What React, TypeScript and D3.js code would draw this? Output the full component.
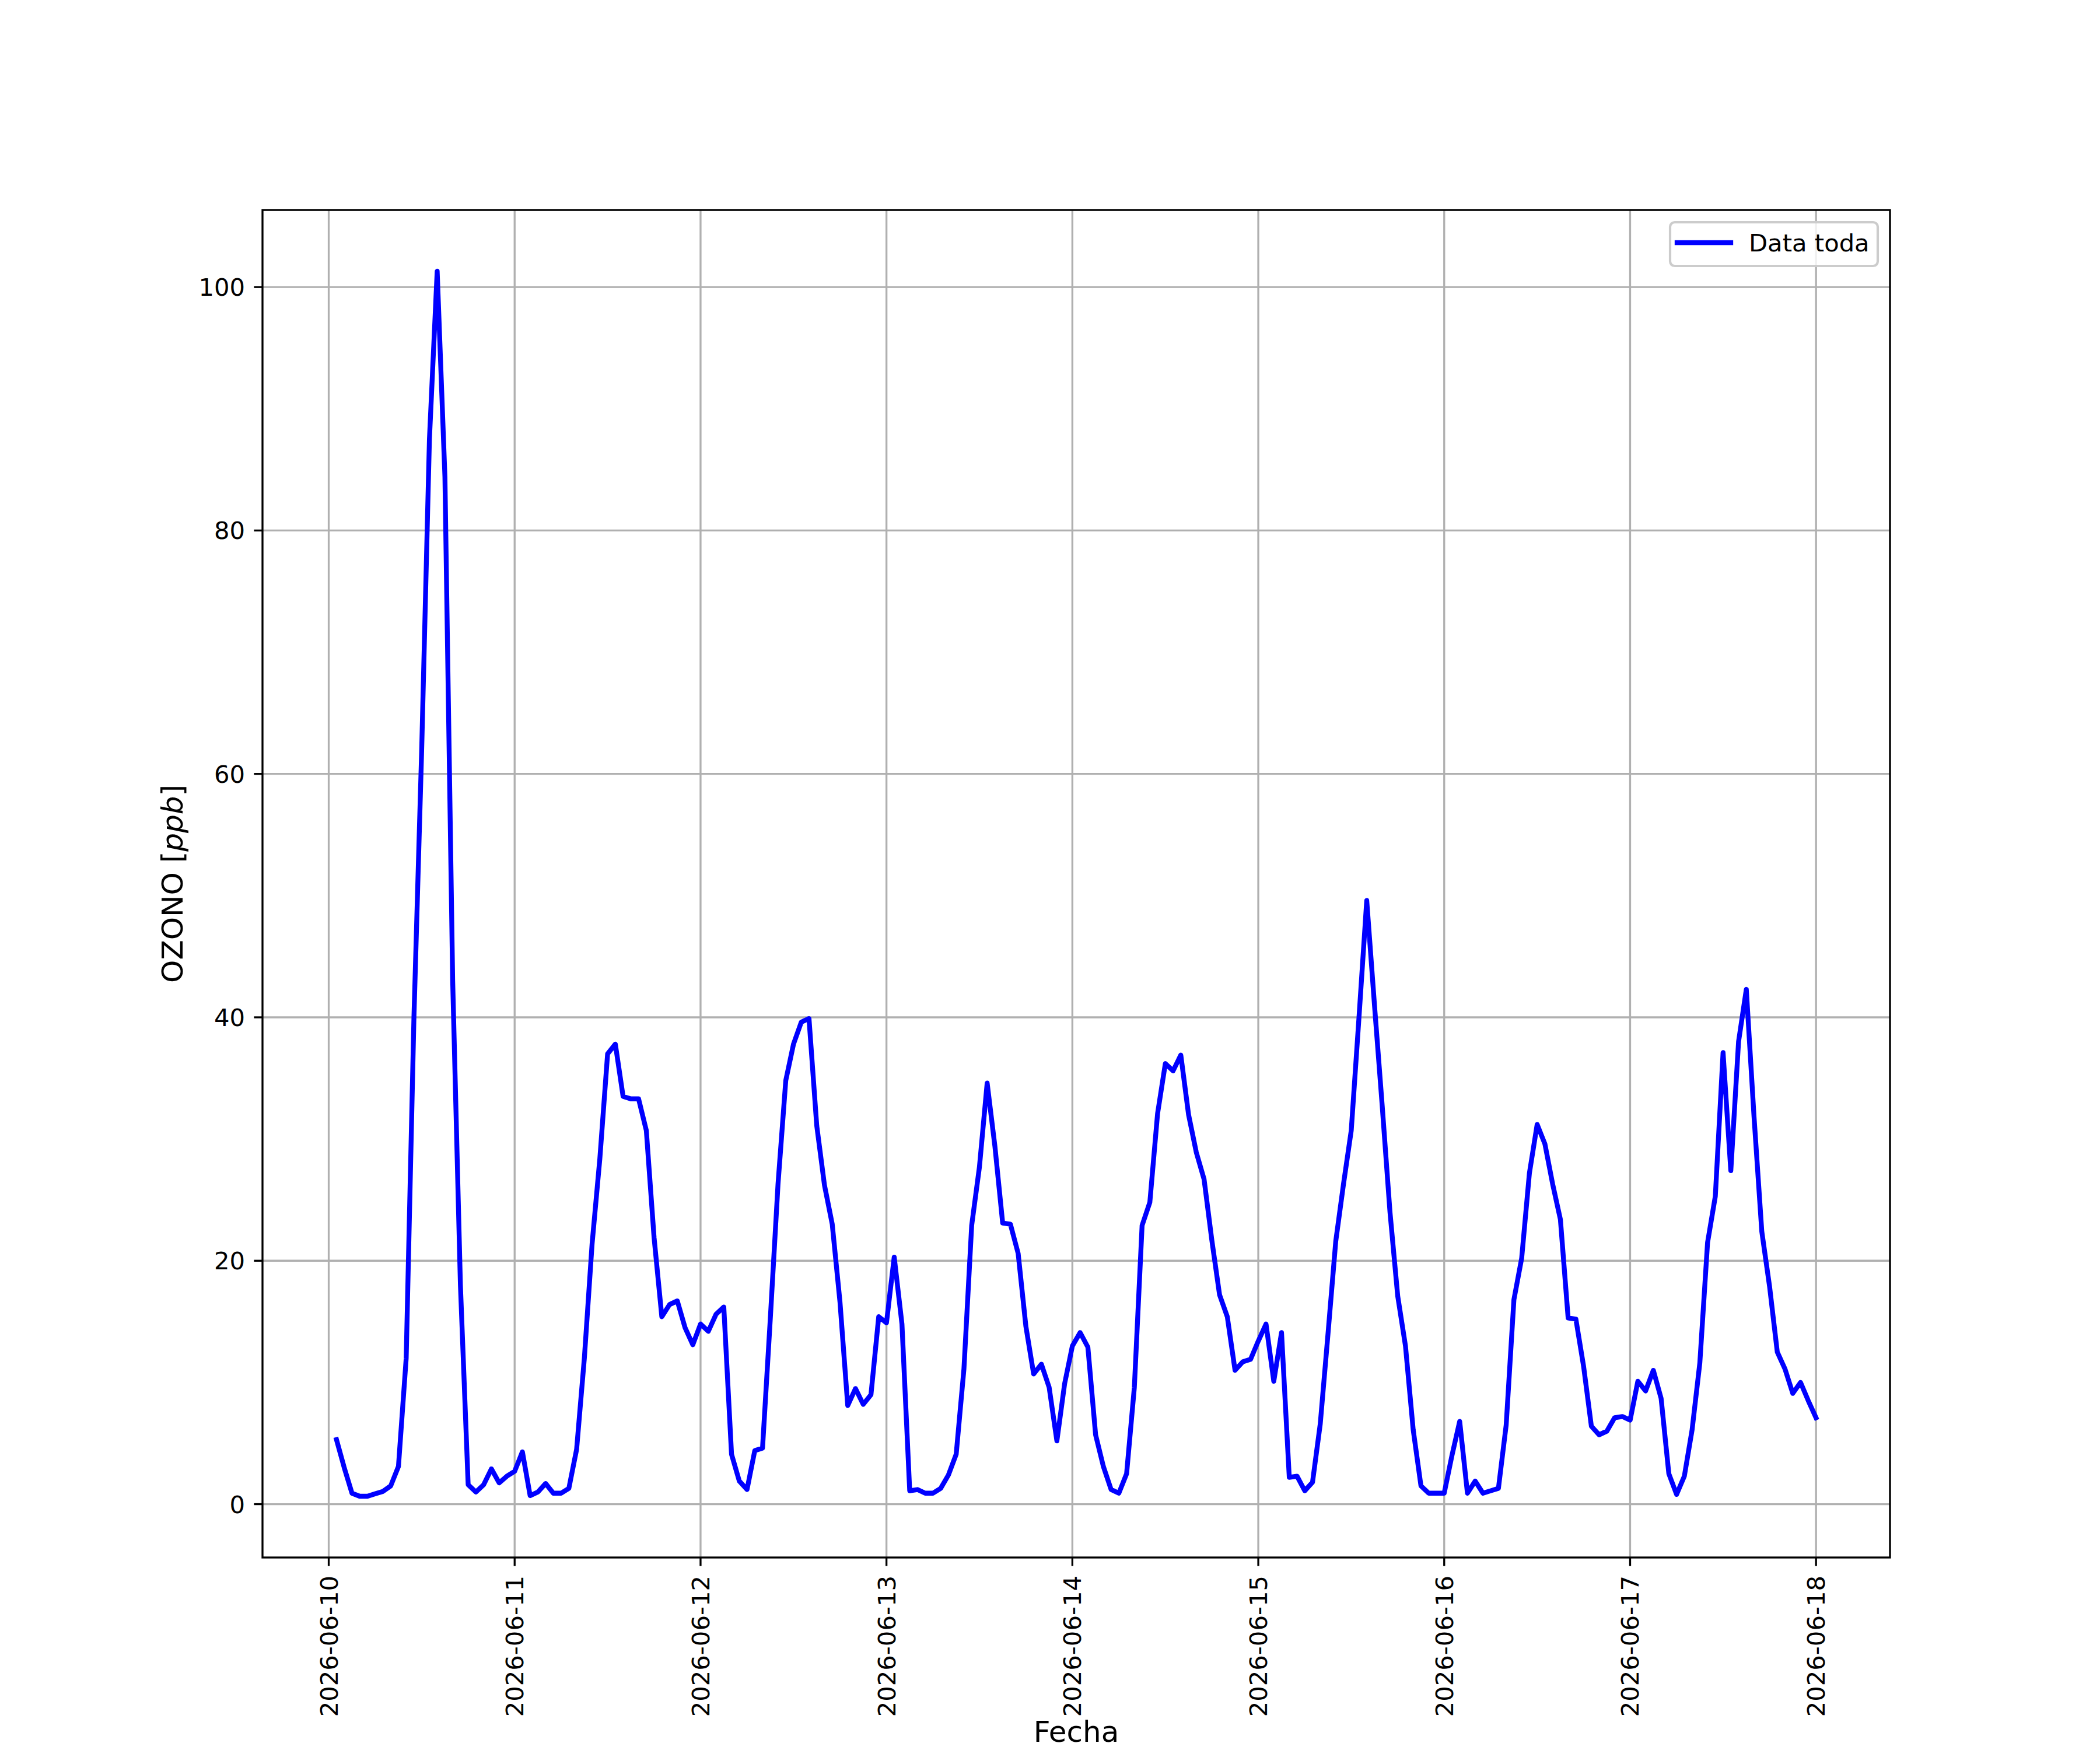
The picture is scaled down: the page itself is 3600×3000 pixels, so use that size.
import { useEffect, useRef } from 'react'
import * as d3 from 'd3'

// hourly ozone readings, 2026-06-10 01:00 .. 2026-06-18 00:00 (UTC)
const startTime = '2026-06-10T00:00:00Z'
const ozone = [
  5.3, 3.0, 0.9, 0.65, 0.65, 0.85, 1.05, 1.5, 3.1, 12.0, 40, 62, 87.5, 101.3, 84.4, 43, 18, 1.6, 1.0, 1.6, 2.9, 1.75, 2.3, 2.7,
  4.3, 0.7, 1.0, 1.7, 0.9, 0.9, 1.3, 4.5, 12.0, 21.4, 28.4, 37.0, 37.8, 33.5, 33.3, 33.3, 30.7, 21.9, 15.4, 16.4, 16.7, 14.5, 13.1, 14.8,
  14.2, 15.6, 16.2, 4.1, 1.9, 1.2, 4.4, 4.6, 15.2, 26.3, 34.8, 37.8, 39.6, 39.9, 31.1, 26.2, 23.0, 16.6, 8.1, 9.5, 8.2, 9.0, 15.4, 14.9,
  20.3, 14.8, 1.1, 1.2, 0.9, 0.9, 1.3, 2.4, 4.1, 11.1, 22.9, 27.7, 34.6, 29.4, 23.1, 23.0, 20.6, 14.6, 10.7, 11.5, 9.6, 5.2, 9.9, 13.0,
  14.1, 12.9, 5.7, 3.1, 1.2, 0.9, 2.5, 9.6, 22.9, 24.8, 32.1, 36.2, 35.6, 36.9, 32.0, 28.9, 26.7, 21.7, 17.2, 15.4, 11.0, 11.7, 11.9, 13.4,
  14.8, 10.1, 14.1, 2.2, 2.3, 1.1, 1.8, 6.6, 14.0, 21.6, 26.3, 30.7, 40.0, 49.6, 41.0, 32.7, 24.0, 17.1, 13.0, 6.1, 1.5, 0.9, 0.9, 0.9,
  4.0, 6.8, 0.9, 1.9, 0.9, 1.1, 1.3, 6.5, 16.8, 20.2, 27.2, 31.2, 29.6, 26.3, 23.4, 15.3, 15.2, 11.3, 6.4, 5.7, 6.0, 7.1, 7.2, 6.9,
  10.1, 9.3, 11.0, 8.7, 2.5, 0.8, 2.3, 6.1, 11.6, 21.5, 25.3, 37.1, 27.4, 38.0, 42.3, 31.8, 22.4, 17.9, 12.5, 11.1, 9.1, 10.0, 8.5, 7.1,
]
const xTickLabels = [
  '2026-06-10', '2026-06-11', '2026-06-12', '2026-06-13', '2026-06-14',
  '2026-06-15', '2026-06-16', '2026-06-17', '2026-06-18',
]
const yTicks = [0, 20, 40, 60, 80, 100]
const seriesLabel = 'Data toda'

const W = 3600
const H = 3000
const FONT = 'DejaVu Sans, sans-serif'

export default function App() {
  const svgRef = useRef<SVGSVGElement | null>(null)

  useEffect(() => {
    const svgEl = svgRef.current
    if (!svgEl) return
    const svg = d3.select(svgEl)
    svg.selectAll('*').remove()

    const left = 450
    const right = 3240
    const top = 360
    const bottom = 2670

    const t0 = new Date(startTime)
    const points = ozone.map((v, i) => ({ t: d3.utcHour.offset(t0, i + 1), v }))

    // matplotlib-like 5% margins
    const [tMin, tMax] = d3.extent(points, (d) => d.t) as [Date, Date]
    const tPad = (tMax.getTime() - tMin.getTime()) * 0.05
    const xScale = d3
      .scaleUtc()
      .domain([new Date(tMin.getTime() - tPad), new Date(tMax.getTime() + tPad)])
      .range([left, right])

    const [vMin, vMax] = d3.extent(points, (d) => d.v) as [number, number]
    const vPad = (vMax - vMin) * 0.05
    const yScale = d3
      .scaleLinear()
      .domain([vMin - vPad, vMax + vPad])
      .range([bottom, top])

    svg.append('rect').attr('width', W).attr('height', H).attr('fill', '#ffffff')

    const xTicks = xTickLabels.map((s) => new Date(s + 'T00:00:00Z'))
    const fmt = d3.utcFormat('%Y-%m-%d')

    // grid
    const grid = svg.append('g').attr('stroke', '#b0b0b0').attr('stroke-width', 3.33)
    xTicks.forEach((d) => {
      grid.append('line').attr('x1', xScale(d)).attr('x2', xScale(d)).attr('y1', top).attr('y2', bottom)
    })
    yTicks.forEach((v) => {
      grid.append('line').attr('x1', left).attr('x2', right).attr('y1', yScale(v)).attr('y2', yScale(v))
    })

    // series
    const line = d3
      .line<{ t: Date; v: number }>()
      .x((d) => xScale(d.t))
      .y((d) => yScale(d.v))

    svg
      .append('path')
      .attr('d', line(points) ?? '')
      .attr('fill', 'none')
      .attr('stroke', '#0000ff')
      .attr('stroke-width', 8.33)
      .attr('stroke-linejoin', 'round')
      .attr('stroke-linecap', 'square')

    // frame
    svg
      .append('rect')
      .attr('x', left)
      .attr('y', top)
      .attr('width', right - left)
      .attr('height', bottom - top)
      .attr('fill', 'none')
      .attr('stroke', '#000000')
      .attr('stroke-width', 3.33)

    // x ticks
    const xAxis = svg.append('g')
    xTicks.forEach((d) => {
      const x = xScale(d)
      xAxis.append('line').attr('x1', x).attr('x2', x).attr('y1', bottom).attr('y2', bottom + 14.6)
        .attr('stroke', '#000').attr('stroke-width', 3.33)
      xAxis
        .append('text')
        .attr('transform', `translate(${x},${bottom + 31}) rotate(-90)`)
        .attr('text-anchor', 'end')
        .attr('dy', '0.36em')
        .attr('font-family', FONT)
        .attr('font-size', 41.7)
        .attr('fill', '#000')
        .text(fmt(d))
    })

    // y ticks
    const yAxis = svg.append('g')
    yTicks.forEach((v) => {
      const y = yScale(v)
      yAxis.append('line').attr('x1', left - 14.6).attr('x2', left).attr('y1', y).attr('y2', y)
        .attr('stroke', '#000').attr('stroke-width', 3.33)
      yAxis
        .append('text')
        .attr('x', left - 30)
        .attr('y', y)
        .attr('dy', '0.36em')
        .attr('text-anchor', 'end')
        .attr('font-family', FONT)
        .attr('font-size', 41.7)
        .attr('fill', '#000')
        .text(String(v))
    })

    // axis labels
    svg
      .append('text')
      .attr('x', (left + right) / 2)
      .attr('y', 2986)
      .attr('text-anchor', 'middle')
      .attr('font-family', FONT)
      .attr('font-size', 50)
      .attr('fill', '#000')
      .text('Fecha')

    const yl = svg
      .append('text')
      .attr('transform', `translate(313,${(top + bottom) / 2}) rotate(-90)`)
      .attr('text-anchor', 'middle')
      .attr('font-family', FONT)
      .attr('font-size', 50)
      .attr('fill', '#000')
    yl.append('tspan').text('OZONO [')
    yl.append('tspan').attr('font-style', 'italic').text('ppb')
    yl.append('tspan').text(']')

    // legend
    const lg = svg.append('g')
    lg.append('rect')
      .attr('x', 2863)
      .attr('y', 381)
      .attr('width', 3219 - 2863)
      .attr('height', 456 - 381)
      .attr('rx', 8)
      .attr('fill', '#ffffff')
      .attr('fill-opacity', 0.8)
      .attr('stroke', '#cccccc')
      .attr('stroke-width', 4.17)
    lg.append('line')
      .attr('x1', 2875)
      .attr('x2', 2967)
      .attr('y1', 416)
      .attr('y2', 416)
      .attr('stroke', '#0000ff')
      .attr('stroke-width', 8.33)
      .attr('stroke-linecap', 'square')
    lg.append('text')
      .attr('x', 2998)
      .attr('y', 431)
      .attr('font-family', FONT)
      .attr('font-size', 41.7)
      .attr('fill', '#000')
      .text(seriesLabel)
  }, [])

  return (
    <svg
      ref={svgRef}
      width={W}
      height={H}
      style={{ position: 'absolute', left: 0, top: 0, display: 'block' }}
    />
  )
}
